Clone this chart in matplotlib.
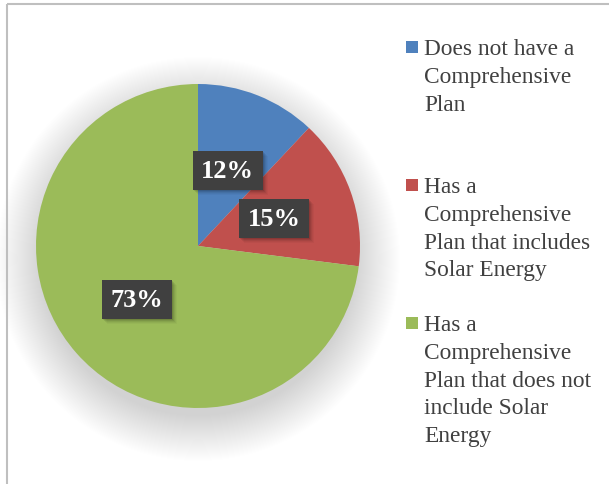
import matplotlib
matplotlib.use('Agg')
import matplotlib.pyplot as plt
from matplotlib.patches import Circle, Rectangle
import numpy as np

# share of communities by comprehensive plan status
labels = ['Does not have a\nComprehensive\nPlan',
          'Has a\nComprehensive\nPlan that includes\nSolar Energy',
          'Has a\nComprehensive\nPlan that does not\ninclude Solar\nEnergy']
shares = [12, 15, 73]
colors = ['#4F81BD', '#C0504D', '#9BBB59']

W, H = 609, 485
plt.rcParams['font.family'] = ['Liberation Serif', 'DejaVu Serif']

fig = plt.figure(figsize=(W / 100, H / 100), dpi=100)
ax = fig.add_axes([0, 0, 1, 1])

cx, cy, R = 198, H - 247, 162

# soft shadow under the pie, heavier towards the bottom
for r in np.linspace(R + 40, R - 5, 45):
    ax.add_patch(Circle((cx, cy - 13), r, color='k', alpha=0.0032, lw=0, zorder=0))

wedges, texts, autotexts = ax.pie(shares, colors=colors, startangle=90, counterclock=False,
                                  center=(cx, cy), radius=R, autopct='%d%%', pctdistance=0.5,
                                  wedgeprops=dict(linewidth=0))

# dark boxes behind the percentages
bw, bh = 70, 39
for t in autotexts:
    x, y = t.get_position()
    for k, a in zip(range(1, 6), [0.10, 0.08, 0.06, 0.04, 0.03]):
        ax.add_patch(Rectangle((x - bw / 2 + k, y - bh / 2 - k), bw, bh, color='k',
                               alpha=a, lw=0, zorder=3))
    ax.add_patch(Rectangle((x - bw / 2, y - bh / 2), bw, bh, facecolor='#404040',
                           edgecolor='none', zorder=4))
    t.set_color('white')
    t.set_fontsize(19)
    t.set_fontweight('bold')
    t.set_zorder(5)

ax.set_xlim(0, W)
ax.set_ylim(0, H)
ax.axis('off')

# legend, one line of text at a time
base_first = [55, 193, 331]
step = 27.8
for lab, col, b in zip(labels, colors, base_first):
    ax.add_patch(Rectangle((406, H - b + 1), 12, 12, color=col, lw=0))
    for i, line in enumerate(lab.split('\n')):
        ax.text(424, H - (b + i * step), line, fontsize=16.8, color='#404040',
                va='baseline', ha='left')

# chart frame
ax.plot([7, W], [H - 5, H - 5], color='#BFBFBF', lw=1.5, solid_capstyle='butt')
ax.plot([7, 7], [H - 5, 0], color='#BFBFBF', lw=1.5, solid_capstyle='butt')

fig.savefig('out.png', dpi=100)
